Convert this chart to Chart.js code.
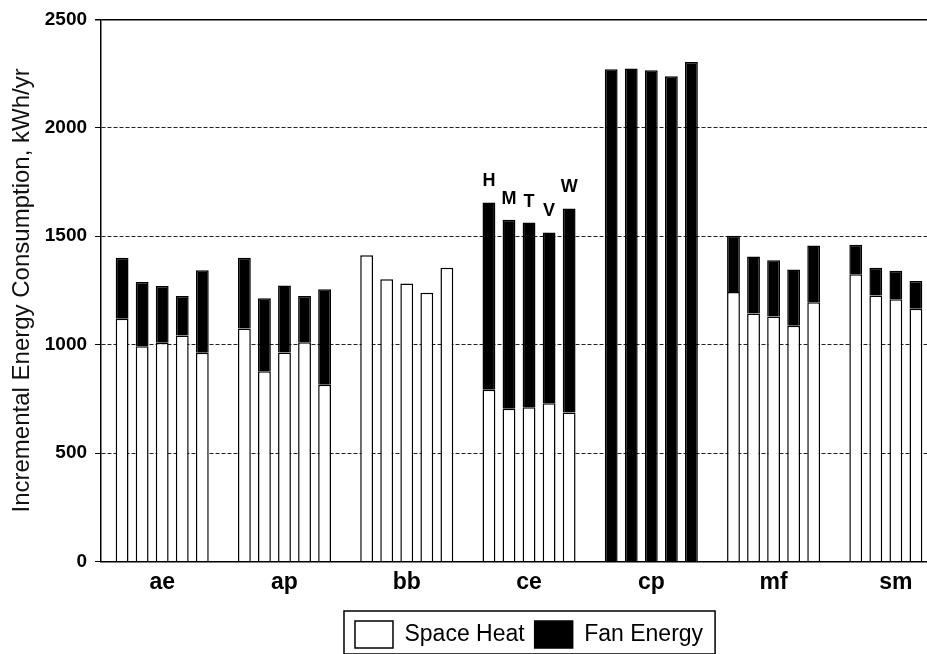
<!DOCTYPE html>
<html>
<head>
<meta charset="utf-8">
<title>Incremental Energy Consumption</title>
<script src="https://cdn.jsdelivr.net/npm/chart.js@4.4.1/dist/chart.umd.min.js"></script>
<style>
  html, body { margin: 0; padding: 0; background: #fff; overflow: hidden; }
  #wrap { width: 970px; height: 661px; }
</style>
</head>
<body>
<div id="wrap"><canvas id="chart" width="970" height="661"></canvas></div>
<script>
// Categories and runs
const groups = ['ae', 'ap', 'bb', 'ce', 'cp', 'mf', 'sm'];
const runs = ['H', 'M', 'T', 'V', 'W'];

// Space heat (kWh/yr), one array per run, across groups
const heatH = [1119, 1074, 1412, 792, 0, 1243, 1324];
const heatM = [992, 877, 1301, 704, 0, 1144, 1226];
const heatT = [1008, 964, 1282, 711, 0, 1130, 1209];
const heatV = [1042, 1011, 1239, 730, 0, 1087, 1165];
const heatW = [962, 815, 1355, 687, 0, 1195, 1278];

// Fan energy (kWh/yr), stacked on top of space heat
const fanH = [282, 327, 0, 864, 2270, 259, 137];
const fanM = [297, 337, 0, 872, 2274, 262, 129];
const fanT = [262, 309, 0, 852, 2265, 259, 132];
const fanV = [182, 213, 0, 787, 2238, 259, 128];
const fanW = [381, 440, 0, 941, 2303, 262, 131];

const yTicks = [0, 500, 1000, 1500, 2000, 2500];

const heatByRun = { H: heatH, M: heatM, T: heatT, V: heatV, W: heatW };
const fanByRun = { H: fanH, M: fanM, T: fanT, V: fanV, W: fanW };

const FONT = '"Liberation Sans", Arial, sans-serif';

const datasets = [];
runs.forEach(run => {
    datasets.push({
        label: 'Space Heat',
        data: heatByRun[run],
        stack: run,
        backgroundColor: '#ffffff',
        borderColor: '#000000',
        borderWidth: 1.5
    });
    datasets.push({
        label: 'Fan Energy',
        data: fanByRun[run],
        stack: run,
        backgroundColor: '#000000',
        borderColor: '#000000',
        borderWidth: 1.5
    });
});

// Run letters above the ce bars
const runLabels = {
    id: 'runLabels',
    afterDatasetsDraw(chart) {
        const ctx = chart.ctx;
        const ceIndex = groups.indexOf('ce');
        ctx.save();
        ctx.font = 'bold 18px ' + FONT;
        ctx.fillStyle = '#000';
        ctx.textAlign = 'center';
        ctx.textBaseline = 'bottom';
        runs.forEach((run, r) => {
            const bar = chart.getDatasetMeta(r * 2 + 1).data[ceIndex];
            ctx.fillText(run, bar.x, bar.y - 12);
        });
        ctx.restore();
    }
};

// Frame round the legend items
const legendFrame = {
    id: 'legendFrame',
    afterDraw(chart) {
        const boxes = chart.legend.legendHitBoxes;
        if (!boxes || !boxes.length) return;
        const left = Math.min(...boxes.map(b => b.left)) - 11;
        const right = Math.max(...boxes.map(b => b.left + b.width)) + 12;
        const top = Math.min(...boxes.map(b => b.top)) - 10;
        const bottom = Math.max(...boxes.map(b => b.top + b.height)) + 6;
        const ctx = chart.ctx;
        ctx.save();
        ctx.strokeStyle = '#000';
        ctx.lineWidth = 1.5;
        ctx.strokeRect(left, top, right - left, bottom - top);
        ctx.restore();
    }
};

new Chart(document.getElementById('chart').getContext('2d'), {
    type: 'bar',
    data: { labels: groups, datasets: datasets },
    options: {
        responsive: false,
        animation: false,
        layout: { padding: { top: 6, left: 8, right: 13, bottom: 3 } },
        datasets: {
            bar: { categoryPercentage: 0.82, barPercentage: 0.64 }
        },
        plugins: {
            tooltip: { enabled: false },
            legend: {
                position: 'bottom',
                fullSize: false,
                labels: {
                    filter: item => item.datasetIndex < 2,
                    boxWidth: 38,
                    boxHeight: 27,
                    padding: 10,
                    color: '#000',
                    font: { family: FONT, size: 23 }
                }
            }
        },
        scales: {
            x: {
                stacked: true,
                grid: { display: false, drawTicks: false },
                border: { color: '#000', width: 1.5 },
                afterFit: scale => { scale.height += 8; },
                ticks: {
                    color: '#000',
                    padding: 7,
                    font: { family: FONT, size: 23, weight: 'bold' }
                }
            },
            y: {
                stacked: true,
                min: yTicks[0],
                max: yTicks[yTicks.length - 1],
                afterBuildTicks: axis => { axis.ticks = yTicks.map(v => ({ value: v })); },
                grid: {
                    color: ctx => (ctx.tick && (ctx.tick.value === 2500 || ctx.tick.value === 0)) ? '#000' : '#222',
                    lineWidth: ctx => (ctx.tick && ctx.tick.value === 2500) ? 1.5 : 1,
                    tickColor: '#000',
                    tickLength: 6,
                    tickBorderDash: []
                },
                border: {
                    color: '#000',
                    width: 1.5,
                    dash: ctx => (ctx.tick && ctx.tick.value !== 2500 && ctx.tick.value !== 0) ? [4, 2] : []
                },
                ticks: {
                    color: '#000',
                    padding: 8,
                    callback: value => String(value),
                    font: { family: FONT, size: 19, weight: 'bold' }
                },
                title: {
                    display: true,
                    text: 'Incremental Energy Consumption, kWh/yr',
                    color: '#111',
                    padding: { top: 0, bottom: 0 },
                    font: { family: FONT, size: 24 }
                }
            }
        }
    },
    plugins: [runLabels, legendFrame]
});
</script>
</body>
</html>
